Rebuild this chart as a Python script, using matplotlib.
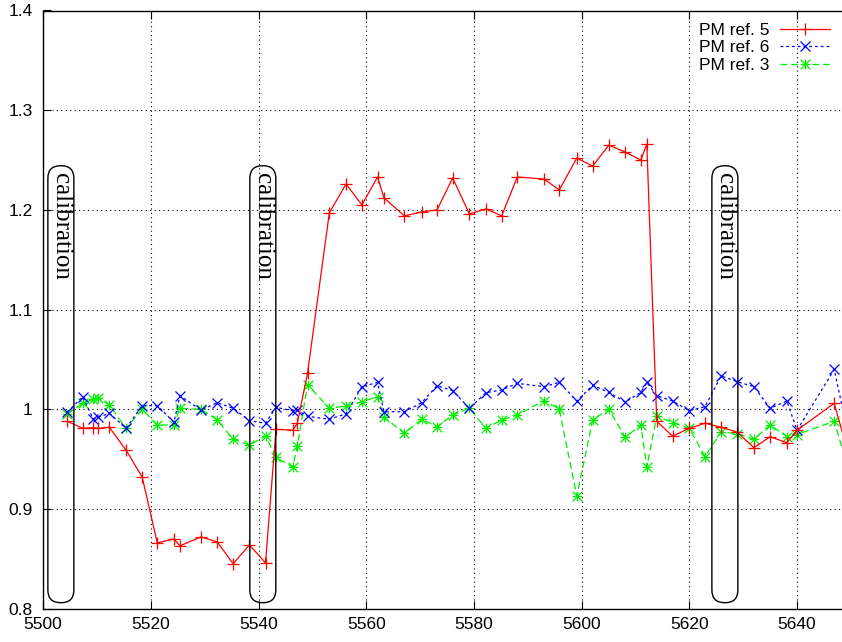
import matplotlib
matplotlib.use("Agg")
import matplotlib.pyplot as plt
from matplotlib.path import Path
from matplotlib.patches import FancyBboxPatch
from matplotlib.ticker import FuncFormatter, MultipleLocator

# ---------------- data ----------------
days = [5504.5, 5507.35, 5509.3, 5510.25, 5512.3, 5515.4, 5518.4, 5521.2, 5524.3, 5525.4,
        5529.3, 5532.35, 5535.3, 5538.3, 5541.3, 5543.25, 5546.35, 5547.2, 5549.1, 5553.15,
        5556.25, 5559.2, 5562.1, 5563.3, 5567.1, 5570.3, 5573.15, 5576.05, 5579.15, 5582.25,
        5585.15, 5588.05, 5593.0, 5595.85, 5599.1, 5602.05, 5605.05, 5608.1, 5611.0, 5612.1,
        5613.95, 5616.9, 5620.0, 5622.9, 5625.9, 5628.9, 5632.0, 5635.0, 5638.1, 5640.0,
        5646.9, 5649.5]

pm_ref5 = [0.988, 0.981, 0.9815, 0.981, 0.982, 0.959, 0.932, 0.866, 0.870, 0.863,
           0.872, 0.867, 0.845, 0.864, 0.846, 0.980, 0.979, 0.986, 1.036, 1.197,
           1.226, 1.205, 1.233, 1.212, 1.194, 1.198, 1.200, 1.232, 1.196, 1.201,
           1.194, 1.233, 1.231, 1.220, 1.252, 1.244, 1.265, 1.258, 1.250, 1.266,
           0.988, 0.973, 0.981, 0.986, 0.982, 0.977, 0.9615, 0.9725, 0.9665, 0.979,
           1.006, 0.956]

pm_ref6 = [0.997, 1.0126, 0.9903, 0.992, 0.996, 0.981, 1.0036, 1.0036, 0.987, 1.0136,
           0.9993, 1.0066, 1.001, 0.9886, 0.986, 1.002, 0.9985, 0.9993, 0.993, 0.990,
           0.9955, 1.0227, 1.027, 0.9975, 0.9976, 1.0066, 1.0237, 1.0187, 1.001, 1.0167,
           1.0194, 1.026, 1.0227, 1.027, 1.0083, 1.0241, 1.017, 1.0073, 1.017, 1.027,
           1.0136, 1.0083, 0.9986, 1.0026, 1.0334, 1.0277, 1.0227, 1.001, 1.0083, 0.979,
           1.040, 0.9745]

pm_ref3 = [0.9953, 1.006, 1.010, 1.0116, 1.0043, 0.981, 1.000, 0.9843, 0.9843, 1.001,
           1.000, 0.9893, 0.970, 0.964, 0.9732, 0.952, 0.942, 0.963, 1.0248, 1.001,
           1.0033, 1.0076, 1.0126, 0.992, 0.976, 0.990, 0.9825, 0.9943, 1.001, 0.981,
           0.9893, 0.9943, 1.0086, 1.0003, 0.913, 0.9893, 1.0003, 0.972, 0.9843, 0.9418,
           0.9933, 0.9866, 0.981, 0.9526, 0.977, 0.9757, 0.970, 0.9843, 0.9727, 0.9747,
           0.988, 0.9405]

series_labels = ["PM ref. 5", "PM ref. 6", "PM ref. 3"]
calib_days = [5503.3, 5540.8, 5626.6]
calib_label = "calibration"

# ---------------- figure ----------------
W, H, DPI = 842, 642, 100
fig = plt.figure(figsize=(W / DPI, H / DPI), dpi=DPI)
ax_left, ax_bottom = 43.1 / W, (H - 608.7) / H
ax_w, ax_h = 807.8 / W, 598.2 / H
ax = fig.add_axes([ax_left, ax_bottom, ax_w, ax_h])

xmin, xmax, ymin, ymax = 5500, 5650, 0.8, 1.4
ax.set_xlim(xmin, xmax)
ax.set_ylim(ymin, ymax)

# asterisk marker (gnuplot pt 3)
star_path = Path([(-1, 0), (1, 0), (0, -1), (0, 1), (-1, -1), (1, 1), (-1, 1), (1, -1)],
                 [Path.MOVETO, Path.LINETO] * 4)

ax.plot(days, pm_ref5, color="#ff0000", lw=0.9, ls="-", marker="+", ms=8, mew=0.9,
        label=series_labels[0], zorder=5)
ax.plot(days, pm_ref6, color="#0000ff", lw=0.9, ls=(0, (2.2, 2.4)), marker="x", ms=7, mew=0.9,
        label=series_labels[1], zorder=4)
ax.plot(days, pm_ref3, color="#00ee00", lw=0.9, ls=(0, (5.5, 3)), marker=star_path, ms=7,
        mew=0.9, mfc="none", mec="#00ee00", label=series_labels[2], zorder=3)

# calibration capsules
xpx = ax_w * W / (xmax - xmin)
ypx = ax_h * H / (ymax - ymin)
aspect = xpx / ypx
half_w = 13.0 / xpx
ybot = 1 - (602.7 - 409.3) / ypx
ytop = 1 + (409.3 - 165.7) / ypx
for c in calib_days:
    box = FancyBboxPatch((c - half_w, ybot), 2 * half_w, ytop - ybot,
                         boxstyle=f"round,pad=0,rounding_size={half_w * 0.98}",
                         mutation_aspect=aspect, fc="none", ec="black", lw=1.0, zorder=6)
    ax.add_patch(box)
    ax.text(c, ytop - 7.0 / ypx, calib_label, rotation=-90, ha="center", va="top",
            family="Liberation Serif", fontsize=18, zorder=7)

# grid and ticks
ax.xaxis.set_major_locator(MultipleLocator(20))
ax.yaxis.set_major_locator(MultipleLocator(0.1))
ax.yaxis.set_major_formatter(FuncFormatter(lambda v, p: "%g" % round(v, 3)))
ax.grid(True, color="black", lw=0.8, ls=(0, (1, 3)))
ax.tick_params(direction="in", length=6, width=0.8, top=True, right=True, labelsize=12.5)
ax.tick_params(axis="x", pad=6)
ax.tick_params(axis="y", pad=7.5)
for lab in ax.get_xticklabels() + ax.get_yticklabels():
    lab.set_family("Liberation Sans")
for sp in ax.spines.values():
    sp.set_linewidth(1.0)

# legend (gnuplot style: text, then sample); place rows precisely
FS = 12.5
fs_px = FS * DPI / 72.0


def make_legend(anchor_y_px, spacing):
    lg = ax.legend(loc="upper right", bbox_to_anchor=(830 / W, 1 - anchor_y_px / H),
                   bbox_transform=fig.transFigure, frameon=False, markerfirst=False,
                   prop={"family": "Liberation Sans", "size": FS}, handlelength=2.9,
                   handletextpad=0.6, labelspacing=spacing, borderpad=0, borderaxespad=0)
    lg.set_zorder(10)
    return lg


def row_centers(lg):
    fig.canvas.draw()
    r = fig.canvas.get_renderer()
    out = []
    for t in lg.get_texts():
        bb = t.get_window_extent(r)
        out.append(H - (bb.y0 + bb.y1) / 2.0)
    return out

target_first, target_pitch = 30.5, 17.35
leg = make_legend(20.0, 0.0)
c = row_centers(leg)
pitch0 = (c[2] - c[0]) / 2.0
spacing = (target_pitch - pitch0) / fs_px
leg.remove()
leg = make_legend(20.0, spacing)
c = row_centers(leg)
leg.remove()
leg = make_legend(20.0 + (target_first - c[0]), spacing)

fig.savefig("out.png", dpi=DPI)
